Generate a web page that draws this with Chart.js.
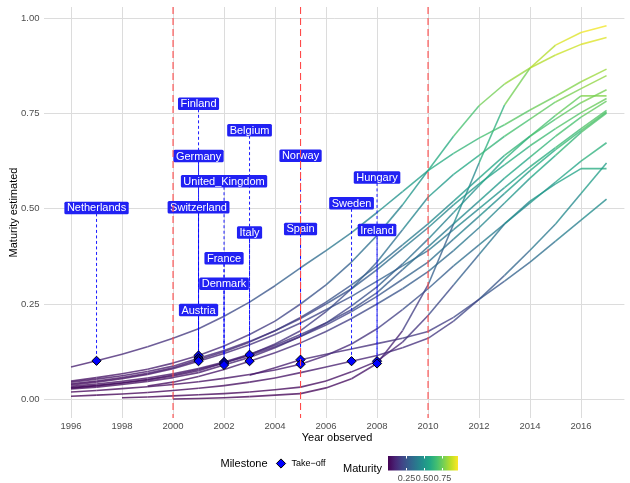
<!DOCTYPE html>
<html>
<head>
<meta charset="utf-8">
<script src="https://cdn.jsdelivr.net/npm/chart.js@4.4.1/dist/chart.umd.min.js"></script>
<style>
  html, body { margin: 0; padding: 0; background: #ffffff; }
  canvas { display: block; }
</style>
</head>
<body>
<canvas id="chart" width="630" height="483"></canvas>
<script>
// ---- data -------------------------------------------------------------
const countries = ['Netherlands', 'Finland', 'Germany', 'Switzerland', 'Austria',
  'United_Kingdom', 'France', 'Denmark', 'Belgium', 'Italy',
  'Norway', 'Spain', 'Sweden', 'Hungary', 'Ireland'];

// first year with an estimate, for each country
const firstYear = [1996, 1996, 1996, 1996, 1996, 1996, 1996, 1996, 1996, 1999,
  2003, 1996, 1996, 1998, 2000];

// year of the take-off milestone
const takeoffYear = [1997, 2001, 2001, 2001, 2001, 2002, 2002, 2002, 2003, 2003,
  2005, 2005, 2007, 2008, 2008];

// height at which each milestone tag sits
const labelLevel = [0.502, 0.775, 0.638, 0.504, 0.234, 0.572, 0.370, 0.303, 0.706, 0.4375,
  0.639, 0.447, 0.514, 0.582, 0.444];

// estimated maturity, one value per year from firstYear to 2017
const netherlands = [0.085, 0.101, 0.118, 0.138, 0.160, 0.185, 0.218, 0.255, 0.298, 0.345, 0.390,
  0.437, 0.490, 0.545, 0.600, 0.645, 0.685, 0.720, 0.759, 0.795, 0.833, 0.866];
const finland = [0.048, 0.057, 0.067, 0.079, 0.095, 0.115, 0.140, 0.170, 0.205, 0.250, 0.300,
  0.360, 0.430, 0.510, 0.600, 0.690, 0.770, 0.827, 0.869, 0.903, 0.931, 0.949];
const germany = [0.045, 0.053, 0.062, 0.073, 0.087, 0.108, 0.128, 0.152, 0.180, 0.212, 0.250,
  0.290, 0.340, 0.395, 0.450, 0.510, 0.565, 0.615, 0.665, 0.710, 0.752, 0.789];
const switzerland = [0.041, 0.048, 0.057, 0.068, 0.083, 0.104, 0.125, 0.150, 0.180, 0.215, 0.255,
  0.300, 0.350, 0.405, 0.460, 0.520, 0.580, 0.640, 0.690, 0.735, 0.778, 0.812];
const austria = [0.038, 0.045, 0.054, 0.065, 0.080, 0.100, 0.120, 0.143, 0.170, 0.200, 0.235,
  0.270, 0.310, 0.350, 0.390, 0.445, 0.500, 0.555, 0.610, 0.660, 0.710, 0.758];
const unitedKingdom = [0.034, 0.040, 0.047, 0.056, 0.067, 0.081, 0.098, 0.118, 0.142, 0.170, 0.200,
  0.235, 0.280, 0.340, 0.400, 0.460, 0.520, 0.580, 0.635, 0.690, 0.740, 0.782];
const france = [0.030, 0.036, 0.043, 0.051, 0.061, 0.075, 0.095, 0.115, 0.138, 0.165, 0.195,
  0.230, 0.270, 0.315, 0.360, 0.420, 0.480, 0.540, 0.600, 0.655, 0.705, 0.754];
const denmark = [0.027, 0.032, 0.039, 0.047, 0.057, 0.070, 0.090, 0.110, 0.135, 0.165, 0.200,
  0.245, 0.295, 0.355, 0.420, 0.490, 0.560, 0.630, 0.690, 0.745, 0.796, 0.796];
const belgium = [0.030, 0.036, 0.043, 0.052, 0.064, 0.078, 0.096, 0.117, 0.145, 0.180, 0.230,
  0.290, 0.360, 0.445, 0.530, 0.590, 0.640, 0.690, 0.735, 0.780, 0.815, 0.849];
const italy = [0.035, 0.045, 0.060, 0.078, 0.100, 0.122, 0.148, 0.178, 0.212, 0.250,
  0.290, 0.335, 0.390, 0.450, 0.515, 0.580, 0.640, 0.700, 0.751];
const norway = [0.063, 0.083, 0.104, 0.118, 0.132, 0.146, 0.160, 0.178, 0.215, 0.262,
  0.310, 0.360, 0.415, 0.470, 0.525];
const spain = [0.019, 0.023, 0.028, 0.033, 0.039, 0.046, 0.055, 0.065, 0.077, 0.092, 0.115,
  0.145, 0.185, 0.235, 0.290, 0.350, 0.405, 0.460, 0.515, 0.570, 0.625, 0.673];
const sweden = [0.008, 0.011, 0.014, 0.018, 0.023, 0.029, 0.036, 0.045, 0.056, 0.070, 0.085,
  0.100, 0.115, 0.135, 0.160, 0.205, 0.262, 0.325, 0.391, 0.460, 0.540, 0.620];
const hungary = [0.004, 0.006, 0.009, 0.012, 0.015, 0.019, 0.025, 0.032, 0.048, 0.072,
  0.100, 0.150, 0.220, 0.300, 0.380, 0.460, 0.520, 0.565, 0.605, 0.605];
const ireland = [0.001, 0.002, 0.004, 0.007, 0.011, 0.015, 0.030, 0.054, 0.094,
  0.180, 0.300, 0.460, 0.620, 0.772, 0.869, 0.929, 0.962, 0.980];

const yearTicks = [1996, 1998, 2000, 2002, 2004, 2006, 2008, 2010, 2012, 2014, 2016];
const levelTicks = [0, 0.25, 0.5, 0.75, 1];
const milestoneYears = [2000, 2005, 2010];
const colorbarTicks = [0.25, 0.5, 0.75];

const series = [netherlands, finland, germany, switzerland, austria, unitedKingdom, france,
  denmark, belgium, italy, norway, spain, sweden, hungary, ireland];

// ---- colour scale (viridis) ------------------------------------------
const allValues = series.flat();
const vMin = Math.min(...allValues);
const vMax = Math.max(...allValues);
const viridisStops = ['#440154', '#482475', '#414487', '#355f8d', '#2a788e', '#21918c',
  '#22a884', '#44bf70', '#7ad151', '#bddf26', '#fde725'];
const hexRgb = h => [1, 3, 5].map(k => parseInt(h.slice(k, k + 2), 16));
function viridis(t, alpha) {
  t = Math.max(0, Math.min(1, t));
  const p = t * (viridisStops.length - 1);
  const i = Math.min(Math.floor(p), viridisStops.length - 2);
  const f = p - i;
  const a = hexRgb(viridisStops[i]), b = hexRgb(viridisStops[i + 1]);
  const c = a.map((v, k) => Math.round(v + (b[k] - v) * f));
  return `rgba(${c[0]},${c[1]},${c[2]},${alpha})`;
}
const maturityColor = v => viridis((v - vMin) / (vMax - vMin), 0.78);

const takeoffValue = i => series[i][takeoffYear[i] - firstYear[i]];

// ---- datasets ---------------------------------------------------------
const curveSets = countries.map((name, i) => ({
  label: name,
  data: series[i].map((v, k) => ({ x: firstYear[i] + k, y: v })),
  borderWidth: 1.6,
  borderColor: maturityColor(series[i][0]),
  pointRadius: 0,
  tension: 0,
  order: 3,
  segment: { borderColor: c => maturityColor(c.p0.parsed.y) }
}));

const leaderSets = countries.map((name, i) => ({
  label: name + ' leader',
  data: [{ x: takeoffYear[i], y: labelLevel[i] }, { x: takeoffYear[i], y: takeoffValue(i) }],
  borderColor: '#0000ff',
  borderWidth: 0.9,
  borderDash: [3, 2.5],
  pointRadius: 0,
  order: 2
}));

const takeoffSet = {
  label: 'Take-off',
  data: countries.map((n, i) => ({ x: takeoffYear[i], y: takeoffValue(i) })),
  showLine: false,
  pointStyle: 'rectRot',
  pointRadius: 4.6,
  pointBackgroundColor: '#0000ff',
  pointBorderColor: '#000000',
  pointBorderWidth: 1,
  order: 1
};

const FONT = '"Liberation Sans", Arial, Helvetica, sans-serif';
Chart.defaults.font.family = FONT;

function roundedBox(ctx, x, y, w, h, r) {
  ctx.beginPath();
  ctx.moveTo(x + r, y);
  ctx.lineTo(x + w - r, y);
  ctx.quadraticCurveTo(x + w, y, x + w, y + r);
  ctx.lineTo(x + w, y + h - r);
  ctx.quadraticCurveTo(x + w, y + h, x + w - r, y + h);
  ctx.lineTo(x + r, y + h);
  ctx.quadraticCurveTo(x, y + h, x, y + h - r);
  ctx.lineTo(x, y + r);
  ctx.quadraticCurveTo(x, y, x + r, y);
  ctx.closePath();
}

function diamond(ctx, cx, cy, r) {
  ctx.beginPath();
  ctx.moveTo(cx - r, cy);
  ctx.lineTo(cx, cy - r);
  ctx.lineTo(cx + r, cy);
  ctx.lineTo(cx, cy + r);
  ctx.closePath();
}

// fixed plot box: no extra room reserved for edge tick labels
function fixBox(size) {
  return s => {
    if (s.isHorizontal()) { s.height = size; } else { s.width = size; }
    s.paddingLeft = 0; s.paddingRight = 0; s.paddingTop = 0; s.paddingBottom = 0;
  };
}

// milestone tags, reference lines, axis titles and legends
const annotate = {
  id: 'annotate',
  afterDatasetsDraw(chart) {
    const { ctx, scales: { x, y }, chartArea: a } = chart;
    ctx.save();
    ctx.font = '11px ' + FONT;
    ctx.textAlign = 'center';
    ctx.textBaseline = 'middle';
    countries.forEach((name, i) => {
      const cx = x.getPixelForValue(takeoffYear[i]);
      const cy = y.getPixelForValue(labelLevel[i]);
      const w = ctx.measureText(name).width + 5;
      const h = 12.5;
      roundedBox(ctx, cx - w / 2, cy - h / 2, w, h, 1.5);
      ctx.fillStyle = '#2121f3';
      ctx.fill();
      ctx.fillStyle = '#ffffff';
      ctx.fillText(name, cx, cy + 0.5);
    });
    ctx.strokeStyle = '#ff4a4a';
    ctx.lineWidth = 1.1;
    ctx.setLineDash([7, 4]);
    milestoneYears.forEach(yr => {
      const px = x.getPixelForValue(yr);
      ctx.beginPath();
      ctx.moveTo(px, a.top);
      ctx.lineTo(px, a.bottom);
      ctx.stroke();
    });
    ctx.restore();
  },
  afterDraw(chart) {
    const { ctx, chartArea: a } = chart;
    ctx.save();
    ctx.fillStyle = '#000000';
    ctx.font = '11px ' + FONT;
    ctx.textAlign = 'center';
    ctx.textBaseline = 'middle';
    ctx.fillText('Year observed', 337, 437.5);
    ctx.save();
    ctx.translate(13.5, (a.top + a.bottom) / 2);
    ctx.rotate(-Math.PI / 2);
    ctx.fillText('Maturity estimated', 0, 0);
    ctx.restore();

    // shape legend
    ctx.textAlign = 'left';
    ctx.fillText('Milestone', 220.5, 464);
    diamond(ctx, 281, 463.5, 4.6);
    ctx.fillStyle = '#0000ff';
    ctx.fill();
    ctx.strokeStyle = '#000000';
    ctx.lineWidth = 1;
    ctx.stroke();
    ctx.fillStyle = '#000000';
    ctx.font = '9px ' + FONT;
    ctx.fillText('Take\u2212off', 291.5, 463.5);

    // colour legend
    ctx.font = '11px ' + FONT;
    ctx.fillText('Maturity', 343, 469);
    const bx0 = 388, bx1 = 458, by0 = 456, by1 = 470.5;
    const grad = ctx.createLinearGradient(bx0, 0, bx1, 0);
    viridisStops.forEach((c, k) => grad.addColorStop(k / (viridisStops.length - 1), c));
    ctx.fillStyle = grad;
    ctx.fillRect(bx0, by0, bx1 - bx0, by1 - by0);
    ctx.strokeStyle = '#ffffff';
    ctx.lineWidth = 1;
    ctx.fillStyle = '#4d4d4d';
    ctx.font = '9px ' + FONT;
    ctx.textAlign = 'center';
    colorbarTicks.forEach(v => {
      const px = Math.round(bx0 + (bx1 - bx0) * (v - vMin) / (vMax - vMin)) + 0.5;
      ctx.beginPath();
      ctx.moveTo(px, by0); ctx.lineTo(px, by0 + 2.5);
      ctx.moveTo(px, by1 - 2.5); ctx.lineTo(px, by1);
      ctx.stroke();
      ctx.fillText(v.toFixed(2), px, 478.5);
    });
    ctx.restore();
  }
};

new Chart(document.getElementById('chart'), {
  type: 'line',
  data: { datasets: [takeoffSet, ...leaderSets, ...curveSets] },
  options: {
    responsive: false,
    animation: false,
    devicePixelRatio: 1,
    events: [],
    layout: { padding: { top: 7, left: 0, right: 0, bottom: 0 } },
    plugins: { legend: { display: false }, tooltip: { enabled: false } },
    scales: {
      x: {
        type: 'linear',
        min: 1994.94,
        max: 2017.70,
        afterBuildTicks: s => { s.ticks = yearTicks.map(v => ({ value: v })); },
        afterFit: fixBox(65),
        grid: { color: '#dcdcdc', lineWidth: 1, drawTicks: false },
        border: { display: false },
        ticks: { padding: 3, color: '#4d4d4d', font: { size: 9.5 }, maxRotation: 0, autoSkip: false,
          callback: v => String(v) }
      },
      y: {
        type: 'linear',
        min: -0.049,
        max: 1.029,
        afterBuildTicks: s => { s.ticks = levelTicks.map(v => ({ value: v })); },
        afterFit: fixBox(44),
        grid: { color: '#dcdcdc', lineWidth: 1, drawTicks: false },
        border: { display: false },
        ticks: { padding: 4.5, color: '#4d4d4d', font: { size: 9.5 }, callback: v => v.toFixed(2) }
      }
    }
  },
  plugins: [annotate]
});
</script>
</body>
</html>
